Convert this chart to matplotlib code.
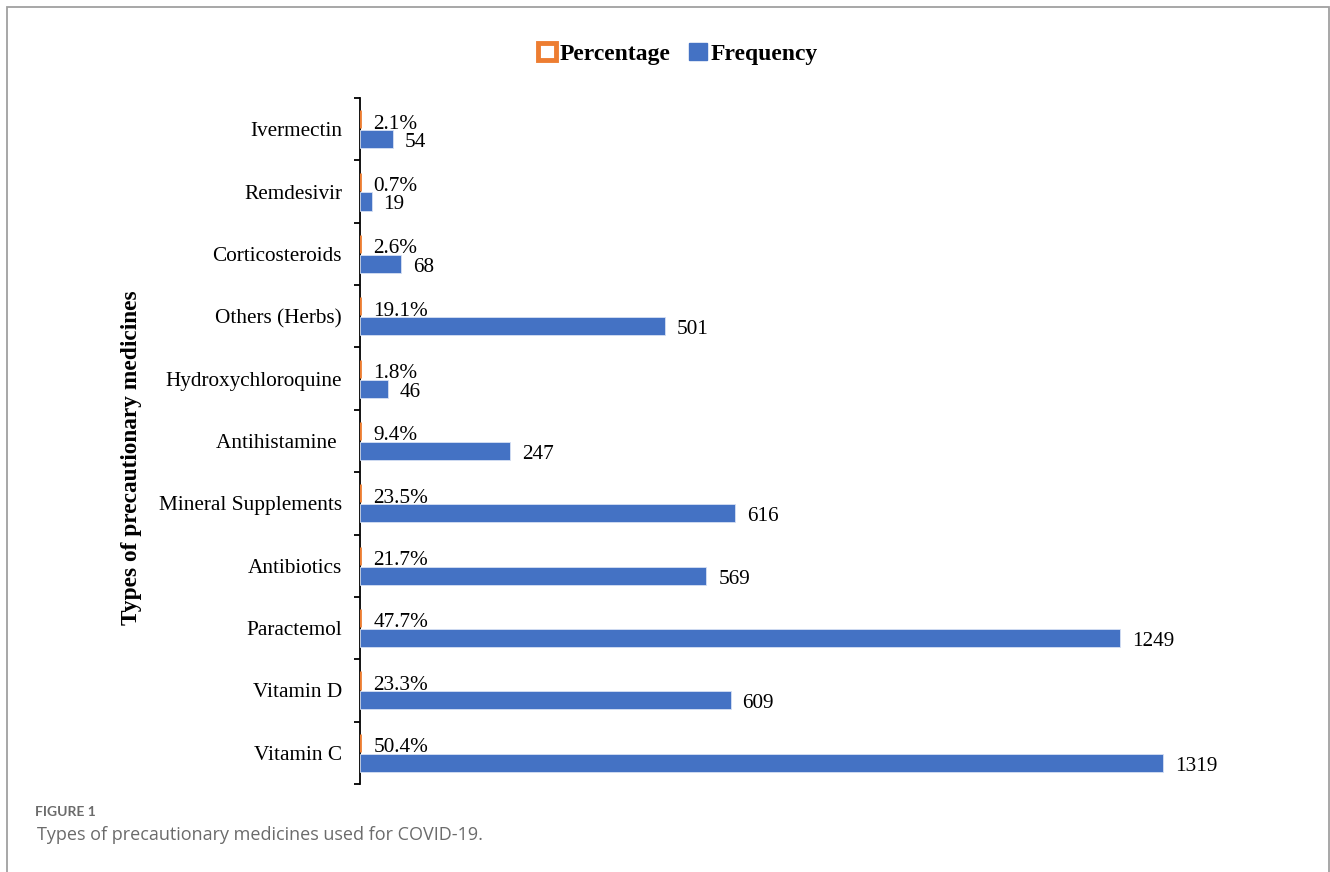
import matplotlib
matplotlib.use("Agg")
import matplotlib.pyplot as plt
from matplotlib.patches import Patch, Rectangle
import numpy as np

categories = ["Vitamin C", "Vitamin D", "Paractemol", "Antibiotics", "Mineral Supplements",
              "Antihistamine ", "Hydroxychloroquine", "Others (Herbs)", "Corticosteroids",
              "Remdesivir", "Ivermectin"]
frequency = [1319, 609, 1249, 569, 616, 247, 46, 501, 68, 19, 54]
percentage = [50.4, 23.3, 47.7, 21.7, 23.5, 9.4, 1.8, 19.1, 2.6, 0.7, 2.1]

BLUE = "#4472C4"
ORANGE = "#ED7D31"
SERIF = ["Liberation Serif", "DejaVu Serif"]

W, H = 1330, 872
fig = plt.figure(figsize=(W / 100, H / 100), dpi=100)
fig.patch.set_facecolor("white")

# outer border
fig.add_artist(Rectangle((6.5 / W, -0.05), (1322 / W), 1.05 - 7.5 / H, transform=fig.transFigure,
                         fill=False, edgecolor="#a0a0a0", linewidth=1.3))

left, right_px = 360, 360 + 1400 * (1163 - 360) / 1319
top, bottom = 98, 784
ax = fig.add_axes([left / W, 1 - bottom / H, (right_px - left) / W, (bottom - top) / H])

y = np.arange(len(categories))
bh = 0.29
off = 0.16
pct_frac = [p / 100 for p in percentage]

ax.barh(y + off, pct_frac, height=bh, color="white", edgecolor=ORANGE, linewidth=2.0, zorder=3)
ax.barh(y - off, frequency, height=bh, color=BLUE, edgecolor="#d6e0f3", linewidth=0.6, zorder=3)

for yi, p, f in zip(y, percentage, frequency):
    ax.annotate(f"{p:.1f}%", xy=(0, yi + off), xytext=(9.5, -3.5), textcoords="offset points",
                ha="left", va="center", fontsize=15.3, family=SERIF)
    ax.annotate(f"{f}", xy=(f, yi - off), xytext=(8.5, -2.5), textcoords="offset points",
                ha="left", va="center", fontsize=15.3, family=SERIF)

ax.set_xlim(0, 1400)
ax.set_ylim(-0.5, len(categories) - 0.5)
for s in ["top", "right", "bottom"]:
    ax.spines[s].set_visible(False)
ax.spines["left"].set_linewidth(1.3)
ax.set_xticks([])
ax.set_yticks(y)
ax.set_yticklabels(categories, fontsize=15.3, family=SERIF)
ax.tick_params(axis="y", which="major", length=0, pad=13)
ax.set_yticks(np.arange(-0.5, len(categories), 1.0), minor=True)
ax.tick_params(axis="y", which="minor", length=4, width=1.3, direction="out")

fig.text(131 / W, 1 - 458 / H, "Types of precautionary medicines", rotation=90, ha="center",
         va="center", fontsize=16.8, fontweight="bold", family=SERIF)

handles = [Patch(facecolor="white", edgecolor=ORANGE, linewidth=3.5),
           Patch(facecolor=BLUE, edgecolor=BLUE)]
leg = fig.legend(handles, ["Percentage", "Frequency"], loc="center", bbox_to_anchor=(678 / W, 1 - 54 / H),
                 ncol=2, frameon=False, handlelength=0.75, handleheight=0.75, handletextpad=0.15,
                 columnspacing=0.8, prop={"family": SERIF, "weight": "bold", "size": 17})

fig.text(35 / W, 1 - 812 / H, "FIGURE 1", fontsize=10, color="#6b6b6b", family="Lato",
         fontweight="bold", va="center", ha="left")
fig.text(37 / W, 1 - 835 / H, "Types of precautionary medicines used for COVID-19.", fontsize=13,
         color="#6b6b6b", family="Open Sans", va="center", ha="left")

fig.savefig("out.png", dpi=100, facecolor="white")
